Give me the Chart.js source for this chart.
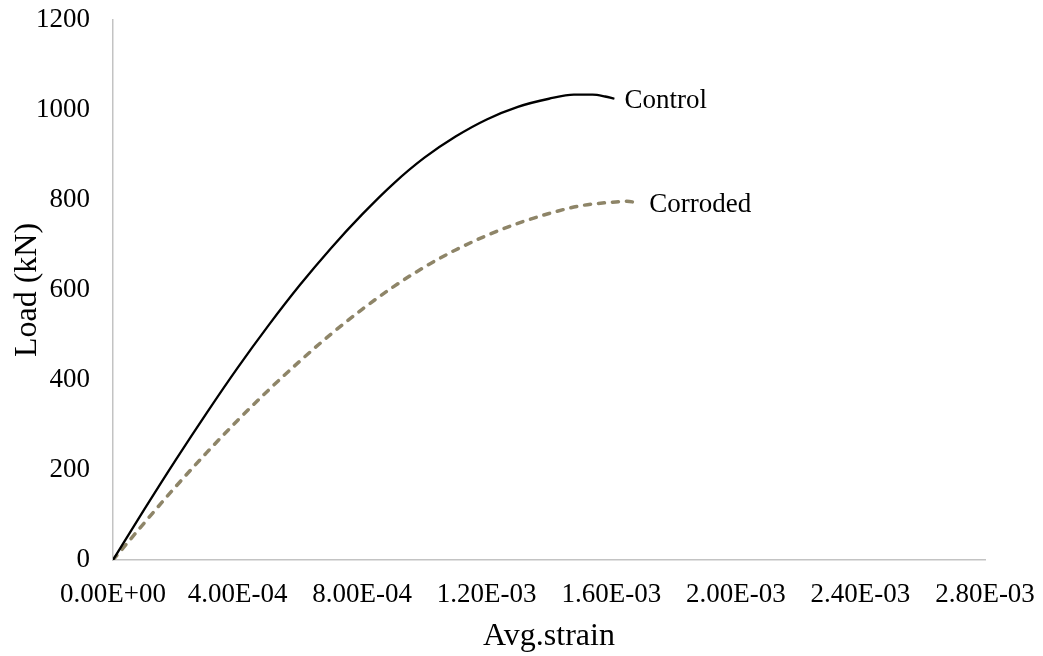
<!DOCTYPE html>
<html>
<head>
<meta charset="utf-8">
<title>Load vs average strain</title>
<script src="https://cdn.jsdelivr.net/npm/chart.js@4.4.1/dist/chart.umd.min.js"></script>
<style>
  html, body { margin: 0; padding: 0; background: #ffffff; }
  #wrap { width: 1043px; height: 656px; }
</style>
</head>
<body>
<div id="wrap"><canvas id="chart" width="1043" height="656"></canvas></div>
<script>
// Average strain (mm/mm) and load (kN) for the two specimens
const strainControl = [0, 0.00010, 0.00020, 0.00030, 0.00040, 0.00050, 0.00060, 0.00070,
  0.00080, 0.00090, 0.00100, 0.00110, 0.00120, 0.00130, 0.00140, 0.00148, 0.00154,
  0.00158, 0.00161];
const loadControl = [0, 112, 221, 326, 427, 522, 611, 693,
  768, 836, 894, 941, 979, 1007, 1025, 1034, 1034,
  1030, 1025];

const strainCorroded = [0, 0.00010, 0.00020, 0.00030, 0.00040, 0.00050, 0.00060, 0.00070,
  0.00080, 0.00090, 0.00100, 0.00110, 0.00120, 0.00130, 0.00140, 0.00150, 0.00160,
  0.00165, 0.00169];
const loadCorroded = [0, 82, 162, 238, 310, 378, 442, 502,
  557, 607, 651, 689, 721, 748, 770, 787, 795,
  797, 793];

const seriesNames = ['Control', 'Corroded'];

// Axis tick values
const xTickValues = [0, 0.0004, 0.0008, 0.0012, 0.0016, 0.0020, 0.0024, 0.0028];
const yTickValues = [0, 200, 400, 600, 800, 1000, 1200];

const FONT = '"Liberation Serif", "Times New Roman", serif';

function toPoints(xs, ys) {
  return xs.map((x, i) => ({ x: x, y: ys[i] }));
}

// Excel-style scientific notation: 4.00E-04
function sci(v) {
  if (Math.abs(v) < 1e-12) return '0.00E+00';
  const parts = v.toExponential(2).split('e');
  const exp = parseInt(parts[1], 10);
  return parts[0] + 'E' + (exp < 0 ? '-' : '+') + String(Math.abs(exp)).padStart(2, '0');
}

// Writes each series name just past the end of its curve
const endLabels = {
  id: 'endLabels',
  afterDatasetsDraw(chart) {
    const ctx = chart.ctx;
    ctx.save();
    ctx.font = '27px ' + FONT;
    ctx.fillStyle = '#000000';
    ctx.textAlign = 'left';
    ctx.textBaseline = 'middle';
    chart.data.datasets.forEach((ds, i) => {
      const meta = chart.getDatasetMeta(i);
      const last = meta.data[meta.data.length - 1];
      ctx.fillText(ds.label, last.x + 10, last.y + 2);
    });
    ctx.restore();
  }
};

new Chart(document.getElementById('chart'), {
  type: 'line',
  data: {
    datasets: [
      {
        label: seriesNames[0],
        data: toPoints(strainControl, loadControl),
        borderColor: '#000000',
        borderWidth: 2.3,
        pointRadius: 0,
        cubicInterpolationMode: 'monotone',
        fill: false
      },
      {
        label: seriesNames[1],
        data: toPoints(strainCorroded, loadCorroded),
        borderColor: '#8e8568',
        borderWidth: 3.5,
        borderDash: [6, 8],
        borderCapStyle: 'round',
        pointRadius: 0,
        cubicInterpolationMode: 'monotone',
        fill: false
      }
    ]
  },
  options: {
    responsive: false,
    animation: false,
    devicePixelRatio: 1,
    layout: { padding: { top: 20, right: 58, bottom: 0, left: 0 } },
    plugins: {
      legend: { display: false },
      tooltip: { enabled: false }
    },
    scales: {
      x: {
        type: 'linear',
        position: 'bottom',
        min: 0,
        max: 0.0028,
        afterBuildTicks(scale) { scale.ticks = xTickValues.map(v => ({ value: v })); },
        afterFit(scale) {
          scale.height = 96;
          scale.paddingLeft = 0;
          scale.paddingRight = 0;
        },
        grid: { display: false, drawTicks: false, tickLength: 0 },
        border: { display: true, color: '#c3c3c3', width: 1.5 },
        ticks: {
          autoSkip: false,
          maxRotation: 0,
          padding: 19,
          color: '#000000',
          font: { family: FONT, size: 27 },
          callback: (v) => sci(v)
        },
        title: {
          display: true,
          text: 'Avg.strain',
          color: '#000000',
          font: { family: FONT, size: 32 },
          padding: { top: 0, bottom: 0 }
        }
      },
      y: {
        type: 'linear',
        position: 'left',
        min: 0,
        max: 1200,
        afterBuildTicks(scale) { scale.ticks = yTickValues.map(v => ({ value: v })); },
        afterFit(scale) {
          scale.width = 113;
          scale.paddingTop = 0;
          scale.paddingBottom = 0;
        },
        grid: { display: false, drawTicks: false, tickLength: 0 },
        border: { display: true, color: '#c3c3c3', width: 1.5 },
        ticks: {
          padding: 23,
          color: '#000000',
          font: { family: FONT, size: 27 },
          callback: (v) => String(v)
        },
        title: {
          display: true,
          text: 'Load (kN)',
          color: '#000000',
          font: { family: FONT, size: 32 },
          padding: { top: 8, bottom: 0 }
        }
      }
    }
  },
  plugins: [endLabels]
});
</script>
</body>
</html>
